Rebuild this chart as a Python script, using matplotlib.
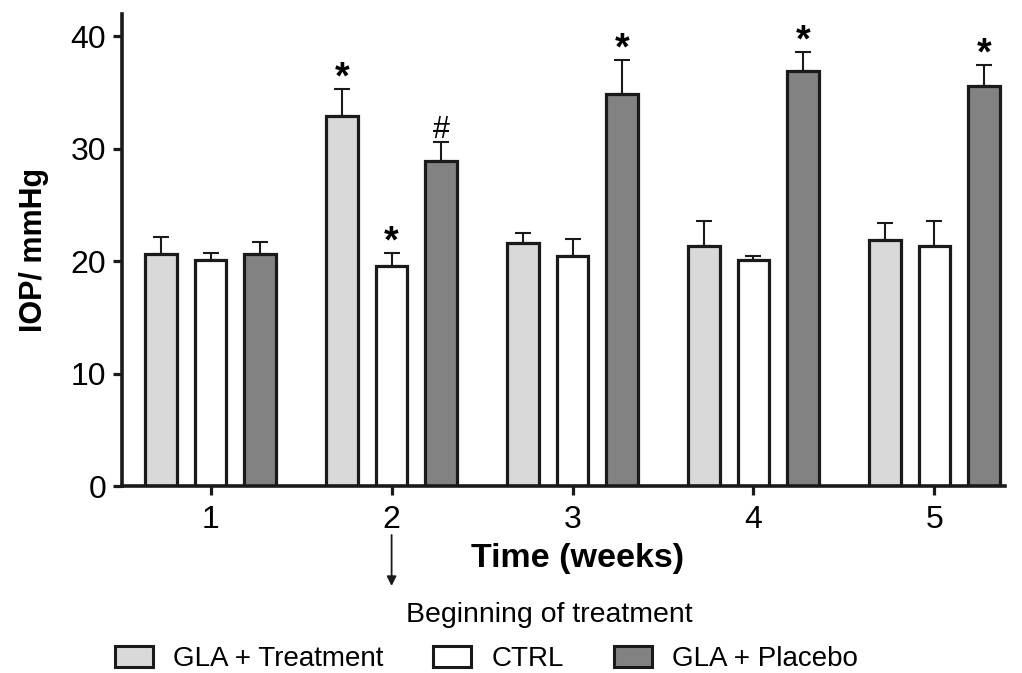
import matplotlib
matplotlib.use("Agg")
import matplotlib.pyplot as plt
import numpy as np
from matplotlib.patches import Patch

plt.rcParams['font.family'] = ['Liberation Sans', 'DejaVu Sans']

weeks = [1, 2, 3, 4, 5]
week_labels = ["1", "2", "3", "4", "5"]
series_names = ["GLA + Treatment", "CTRL", "GLA + Placebo"]
gla_treat = [20.6, 32.9, 21.6, 21.4, 21.9]
gla_treat_err = [1.6, 2.4, 0.9, 2.2, 1.5]
ctrl = [20.1, 19.6, 20.5, 20.1, 21.4]
ctrl_err = [0.6, 1.1, 1.5, 0.4, 2.2]
gla_placebo = [20.6, 28.9, 34.9, 36.9, 35.6]
gla_placebo_err = [1.1, 1.7, 3.0, 1.7, 1.9]
marks_treat = ["", "*", "", "", ""]
marks_ctrl = ["", "*", "", "", ""]
marks_placebo = ["", "#", "*", "*", "*"]

colors = ["#d9d9d9", "#ffffff", "#828282"]
edge = "#1a1a1a"

W, H = 1022, 673
fig = plt.figure(figsize=(W/100, H/100), dpi=100)
ax = fig.add_axes([122/W, 1-486/H, (1005-122)/W, (486-14)/H])

x = np.array(weeks, dtype=float)
off = 0.273
w = 0.175
data = [(gla_treat, gla_treat_err, marks_treat),
        (ctrl, ctrl_err, marks_ctrl),
        (gla_placebo, gla_placebo_err, marks_placebo)]
for i, (vals, errs, marks) in enumerate(data):
    xs = x + (i - 1) * off
    ax.errorbar(xs, vals, yerr=[np.zeros(len(errs)), errs], fmt='none',
                ecolor=edge, elinewidth=1.5, capsize=6, capthick=1.5, zorder=1)
    ax.bar(xs, vals, width=w, color=colors[i], edgecolor=edge, linewidth=2.3, zorder=2)
    for xx, v, e, m in zip(xs, vals, errs, marks):
        if m == "*":
            ax.text(xx, v + e + 0.05, m, ha='center', va='baseline', fontsize=27,
                    fontweight='bold')
        elif m == "#":
            ax.text(xx, v + e + 0.35, m, ha='center', va='baseline', fontsize=22)

ax.set_xlim(0.51, 5.39)
ax.set_ylim(0, 42)
ax.set_yticks([0, 10, 20, 30, 40])
ax.set_xticks(x)
ax.set_xticklabels(week_labels)
for s in ['top', 'right']:
    ax.spines[s].set_visible(False)
for s in ['left', 'bottom']:
    ax.spines[s].set_linewidth(2.6)
    ax.spines[s].set_color(edge)
ax.tick_params(axis='both', direction='out', length=6.5, width=2.3, color=edge,
               labelsize=23)
ax.tick_params(axis='y', pad=5)
ax.tick_params(axis='x', pad=7.5)

fig.text(34/W, 1-250/H, "IOP/ mmHg", rotation=90, ha='center', va='center',
         fontsize=22, fontweight='bold')

fig.text(578/W, 1-567/H, "Time (weeks)", ha='center', va='baseline',
         fontsize=24.5, fontweight='bold')
ax.annotate("", xy=(2, 1-586/H), xytext=(2, 1-535/H),
            xycoords=('data', 'figure fraction'), textcoords=('data', 'figure fraction'),
            arrowprops=dict(arrowstyle='-|>', color=edge, lw=1.3, mutation_scale=14,
                            shrinkA=0, shrinkB=0))
fig.text(549/W, 1-622/H, "Beginning of treatment", ha='center', va='baseline',
         fontsize=20.5)

handles = [Patch(facecolor=c, edgecolor=edge, linewidth=2.2) for c in colors]
fig.legend(handles, series_names, loc='center left', bbox_to_anchor=(115/W, 1-659/H),
           ncol=3, frameon=False, fontsize=20, handlelength=1.37, handleheight=0.8,
           columnspacing=1.8, handletextpad=0.72, borderaxespad=0, borderpad=0)

fig.savefig("out.png", dpi=100)
